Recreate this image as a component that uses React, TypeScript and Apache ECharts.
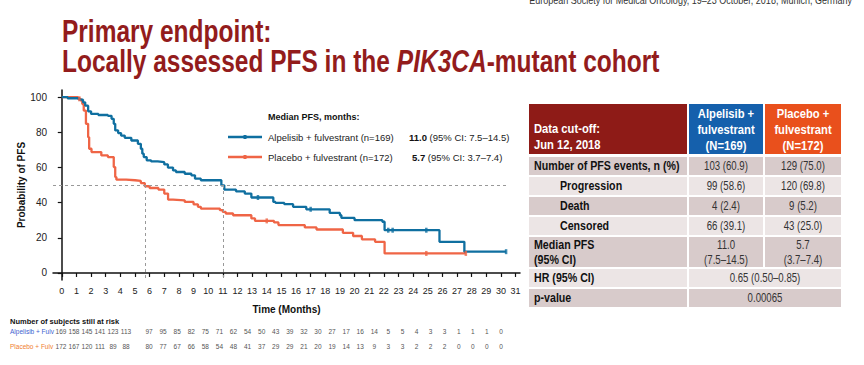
import React, { useEffect, useRef } from "react";
import * as echarts from "echarts";

// ---------- data ----------
const ALP_KM: [number, number][] = [
  [0, 100], [0.4, 99.3], [1.2, 98.5], [1.45, 97], [1.6, 95.1], [1.8, 91.9], [2.0, 90.4], [2.5, 89.8],
  [3.15, 89.3], [3.4, 87.6], [3.55, 84.8], [3.65, 81], [3.85, 79.5], [4.05, 78.1], [4.3, 76.8],
  [4.75, 75.3], [5.2, 73.4], [5.4, 70.6], [5.5, 67.8], [5.6, 65.9], [5.8, 64], [6.1, 63.4],
  [6.55, 63], [7.0, 61.7], [7.25, 59.9], [7.6, 58.3], [7.8, 57.4], [8.4, 56.4], [8.85, 55.5],
  [9.1, 53.6], [9.5, 52.7], [10.9, 49.8], [11.1, 47.4], [11.9, 46.4], [12.5, 45.1], [12.95, 42.9],
  [14.45, 40.4], [14.6, 39.8], [15.2, 39.1], [15.8, 37.6], [16.7, 36.2], [18.3, 34.1], [19.0, 32.8],
  [19.1, 31.3], [20.0, 30.0], [21.9, 29.1], [22.05, 24.3], [25.8, 17.7], [27.5, 12.1], [30.35, 12.1],
];
const PLA_KM: [number, number][] = [
  [0, 100], [1.1, 99], [1.3, 98], [1.4, 96], [1.5, 92.3], [1.65, 84.8], [1.8, 77.2], [1.87, 70.6],
  [2.03, 68.7], [2.7, 66.8], [3.15, 65.9], [3.55, 60.2], [3.65, 54.5], [3.73, 53], [4.4, 52.7],
  [5.0, 52.3], [5.4, 51.1], [5.67, 49.3], [6.0, 48.3], [6.6, 47.4], [7.0, 45.1], [7.26, 41.7],
  [7.6, 41.3], [8.4, 40.4], [9.0, 39], [9.3, 37.6], [9.5, 36.6], [10.8, 35.7], [11.0, 34.7],
  [11.2, 33.8], [11.7, 32.8], [12.95, 31], [13.2, 29.6], [14.5, 28.7], [14.8, 27.2], [16.6, 25.9],
  [17.4, 24.7], [19.2, 22.8], [19.9, 21], [20.5, 19.1], [21.4, 17.7], [22.05, 11.1], [27.6, 11.1],
];
const ALP_CENSOR: [number, number][] = [[13.4, 42.9], [17.0, 36.2], [22.3, 24.3], [22.6, 24.3], [24.9, 24.3], [30.35, 12.1]];
const PLA_CENSOR: [number, number][] = [[1.2, 99], [14.0, 29.6], [24.9, 11.1], [27.6, 11.1]];
const MEDIANS = [5.7, 11.0];
const X_TICKS = Array.from({ length: 32 }, (_, i) => i);
const Y_TICKS = [0, 20, 40, 60, 80, 100];

const RISK_ALP = [169, 158, 145, 141, 123, 113, 97, 95, 85, 82, 75, 71, 62, 54, 50, 43, 39, 32, 30, 27, 17, 16, 14, 5, 5, 4, 3, 3, 1, 1, 1, 0];
const RISK_PLA = [172, 167, 120, 111, 89, 88, 80, 77, 67, 66, 58, 54, 48, 41, 37, 29, 29, 21, 20, 19, 14, 13, 9, 3, 3, 2, 2, 2, 0, 0, 0, 0];

const TABLE_LABELS = ["Number of PFS events, n (%)", "Progression", "Death", "Censored", "Median PFS\n(95% CI)", "HR (95% CI)", "p-value"];
const TABLE_INDENT = [false, true, true, true, false, false, false];
const TABLE_ALP = ["103 (60.9)", "99 (58.6)", "4 (2.4)", "66 (39.1)", "11.0\n(7.5–14.5)", "0.65 (0.50–0.85)", "0.00065"];
const TABLE_PLA = ["129 (75.0)", "120 (69.8)", "9 (5.2)", "43 (25.0)", "5.7\n(3.7–7.4)", "", ""];

// ---------- style ----------
const BLUE = "#0F6FA0";
const RED = "#EF6546";
const TITLE_RED = "#931C1C";
const ARIAL = "'Liberation Sans',Arial,sans-serif";

function buildGraphic() {
  const g: any[] = [];
  // header top text (cut off in the original too)
  g.push({ type: "text", x: 852, y: 0, scaleX: 0.82, style: { text: "European Society for Medical Oncology, 19–23 October, 2018, Munich, Germany", fill: "#333", fontFamily: ARIAL, fontSize: 11, align: "right", verticalAlign: "middle" } });
  // title
  g.push({ type: "text", x: 62, y: 31, scaleX: 0.79, style: { text: "Primary endpoint:", fill: TITLE_RED, fontFamily: ARIAL, fontWeight: "bold", fontSize: 31, verticalAlign: "middle" } });
  g.push({
    type: "text", x: 62, y: 61, scaleX: 0.79, style: {
      text: "{n|Locally assessed PFS in the }{i|PIK3CA}{n|-mutant cohort}",
      verticalAlign: "middle",
      rich: {
        n: { fill: TITLE_RED, fontFamily: ARIAL, fontWeight: "bold", fontSize: 31 },
        i: { fill: TITLE_RED, fontFamily: ARIAL, fontWeight: "bold", fontStyle: "italic", fontSize: 31 },
      },
    },
  });
  // legend
  g.push({ type: "text", x: 268, y: 117, style: { text: "Median PFS, months:", fill: "#111", fontFamily: ARIAL, fontWeight: "bold", fontSize: 9, verticalAlign: "middle" } });
  const legRows = [
    { c: BLUE, y: 137, name: "Alpelisib + fulvestrant (n=169)", med: "11.0", ci: " (95% CI: 7.5–14.5)", mx: 409 },
    { c: RED, y: 157, name: "Placebo + fulvestrant (n=172)", med: "5.7", ci: " (95% CI: 3.7–7.4)", mx: 412 },
  ];
  legRows.forEach((r) => {
    g.push({ type: "line", shape: { x1: 228, y1: r.y, x2: 262, y2: r.y }, style: { stroke: r.c, lineWidth: 2.5 } });
    g.push({ type: "rect", shape: { x: 243.5, y: r.y - 2, width: 3, height: 4 }, style: { fill: r.c } });
    g.push({ type: "text", x: 268, y: r.y, style: { text: r.name, fill: "#222", fontFamily: ARIAL, fontSize: 9.5, verticalAlign: "middle" } });
    g.push({
      type: "text", x: r.mx, y: r.y, style: {
        text: `{b|${r.med}}{n|${r.ci}}`, verticalAlign: "middle",
        rich: { b: { fill: "#111", fontFamily: ARIAL, fontWeight: "bold", fontSize: 9.5 }, n: { fill: "#222", fontFamily: ARIAL, fontSize: 9.5 } },
      },
    });
  });

  // table
  const c1 = [529, 687], c2 = [689, 763], c3 = [765, 841];
  g.push({ type: "rect", shape: { x: c1[0], y: 104, width: c1[1] - c1[0], height: 50 }, style: { fill: "#8E1B17" } });
  g.push({ type: "rect", shape: { x: c2[0], y: 104, width: c2[1] - c2[0], height: 50 }, style: { fill: "#1560AC" } });
  g.push({ type: "rect", shape: { x: c3[0], y: 104, width: c3[1] - c3[0], height: 50 }, style: { fill: "#E9501C" } });
  const hFont = { fill: "#fff", fontFamily: ARIAL, fontWeight: "bold", fontSize: 13.5, lineHeight: 16 };
  g.push({ type: "text", x: 534, y: 137, scaleX: 0.83, style: { ...hFont, text: "Data cut-off:\nJun 12, 2018", verticalAlign: "middle" } });
  g.push({ type: "text", x: (c2[0] + c2[1]) / 2, y: 130, scaleX: 0.83, style: { ...hFont, text: "Alpelisib +\nfulvestrant\n(N=169)", align: "center", verticalAlign: "middle" } });
  g.push({ type: "text", x: (c3[0] + c3[1]) / 2, y: 130, scaleX: 0.83, style: { ...hFont, text: "Placebo +\nfulvestrant\n(N=172)", align: "center", verticalAlign: "middle" } });
  const rowY = [157, 177, 197, 217, 237, 269, 289];
  const rowH = [18, 18, 18, 18, 30, 18, 18];
  TABLE_LABELS.forEach((lab, i) => {
    const fill = i % 2 === 0 ? "#D8CBCB" : "#ECE5E5";
    const y = rowY[i], h = rowH[i];
    const merged = TABLE_PLA[i] === "";
    g.push({ type: "rect", shape: { x: c1[0], y, width: c1[1] - c1[0], height: h }, style: { fill } });
    if (merged) {
      g.push({ type: "rect", shape: { x: c2[0], y, width: c3[1] - c2[0], height: h }, style: { fill } });
    } else {
      g.push({ type: "rect", shape: { x: c2[0], y, width: c2[1] - c2[0], height: h }, style: { fill } });
      g.push({ type: "rect", shape: { x: c3[0], y, width: c3[1] - c3[0], height: h }, style: { fill } });
    }
    g.push({ type: "text", x: TABLE_INDENT[i] ? 560 : 534, y: y + h / 2, scaleX: 0.82, style: { text: lab, fill: "#111", fontFamily: ARIAL, fontWeight: "bold", fontSize: 13, lineHeight: 15, verticalAlign: "middle" } });
    const vf = { fill: "#333", fontFamily: ARIAL, fontSize: 12.5, lineHeight: 15, align: "center", verticalAlign: "middle" };
    if (merged) {
      g.push({ type: "text", x: (c2[0] + c3[1]) / 2, y: y + h / 2, scaleX: 0.77, style: { ...vf, text: TABLE_ALP[i] } });
    } else {
      g.push({ type: "text", x: (c2[0] + c2[1]) / 2, y: y + h / 2, scaleX: 0.77, style: { ...vf, text: TABLE_ALP[i] } });
      g.push({ type: "text", x: (c3[0] + c3[1]) / 2, y: y + h / 2, scaleX: 0.77, style: { ...vf, text: TABLE_PLA[i] } });
    }
  });

  // risk table
  g.push({ type: "text", x: 10, y: 321, style: { text: "Number of subjects still at risk", fill: "#111", fontFamily: ARIAL, fontWeight: "bold", fontSize: 7.5, verticalAlign: "middle" } });
  g.push({ type: "text", x: 10, y: 331, style: { text: "Alpelisib + Fulv", fill: "#3C5FD0", fontFamily: ARIAL, fontSize: 6.5, verticalAlign: "middle" } });
  g.push({ type: "text", x: 10, y: 346, style: { text: "Placebo + Fulv", fill: "#F08030", fontFamily: ARIAL, fontSize: 6.5, verticalAlign: "middle" } });
  const rx = (i: number) => (i < 6 ? 61 + i * 13 : 149 + (i - 6) * 14.08);
  RISK_ALP.forEach((v, i) => g.push({ type: "text", x: rx(i), y: 331, style: { text: String(v), fill: "#555", fontFamily: ARIAL, fontSize: 6.5, align: "center", verticalAlign: "middle" } }));
  RISK_PLA.forEach((v, i) => g.push({ type: "text", x: rx(i), y: 346, style: { text: String(v), fill: "#555", fontFamily: ARIAL, fontSize: 6.5, align: "center", verticalAlign: "middle" } }));
  return g;
}

export default function App() {
  const ref = useRef<HTMLDivElement>(null);
  useEffect(() => {
    document.body.style.margin = "0";
    const chart = echarts.init(ref.current!, null, { renderer: "svg" });
    const dash = { color: "#999", type: [3, 3] as any, width: 1 };
    chart.setOption({
      animation: false,
      backgroundColor: "#fff",
      grid: { left: 53, right: 344, top: 90, bottom: 85 },
      xAxis: {
        type: "value", min: -0.6, max: 31.3,
        name: "Time (Months)", nameLocation: "middle", nameGap: 24,
        nameTextStyle: { fontFamily: ARIAL, fontWeight: "bold", fontSize: 10, color: "#111" },
        axisLine: { lineStyle: { color: "#111", width: 1.5 } },
        axisTick: { show: true, length: 4, lineStyle: { color: "#111", width: 1.2 }, customValues: X_TICKS },
        axisLabel: { fontFamily: ARIAL, fontSize: 9, color: "#222", margin: 6, customValues: X_TICKS },
        splitLine: { show: false },
      },
      yAxis: {
        type: "value", min: -4, max: 104,
        name: "Probability of PFS", nameLocation: "middle", nameGap: 27, nameRotate: 90,
        nameMoveOverlap: false,
        nameTextStyle: { fontFamily: ARIAL, fontWeight: "bold", fontSize: 10, color: "#111" },
        axisLine: { show: true, lineStyle: { color: "#111", width: 1.5 } },
        axisTick: { show: true, length: 4, lineStyle: { color: "#111", width: 1.2 }, customValues: Y_TICKS },
        axisLabel: { fontFamily: ARIAL, fontSize: 10, color: "#222", margin: 6, customValues: Y_TICKS },
        splitLine: { show: false },
      },
      series: [
        {
          type: "line", data: [], silent: true,
          markLine: {
            silent: true, symbol: "none", label: { show: false }, lineStyle: dash,
            data: [
              [{ coord: [-0.6, 50] }, { coord: [30.4, 50] }],
              ...MEDIANS.map((m) => [{ coord: [m, 50] }, { coord: [m, -4] }]),
            ],
          },
        },
        { type: "line", step: "end", data: PLA_KM, showSymbol: false, lineStyle: { color: RED, width: 2.3 }, z: 3 },
        { type: "line", step: "end", data: ALP_KM, showSymbol: false, lineStyle: { color: BLUE, width: 2.3 }, z: 4 },
        { type: "scatter", data: PLA_CENSOR, symbol: "rect", symbolSize: [2.5, 5], itemStyle: { color: RED }, z: 5 },
        { type: "scatter", data: ALP_CENSOR, symbol: "rect", symbolSize: [2.5, 5], itemStyle: { color: BLUE }, z: 5 },
      ],
      graphic: buildGraphic(),
    });
    return () => chart.dispose();
  }, []);
  return <div ref={ref} style={{ position: "absolute", left: 0, top: 0, width: 864, height: 365 }} />;
}
